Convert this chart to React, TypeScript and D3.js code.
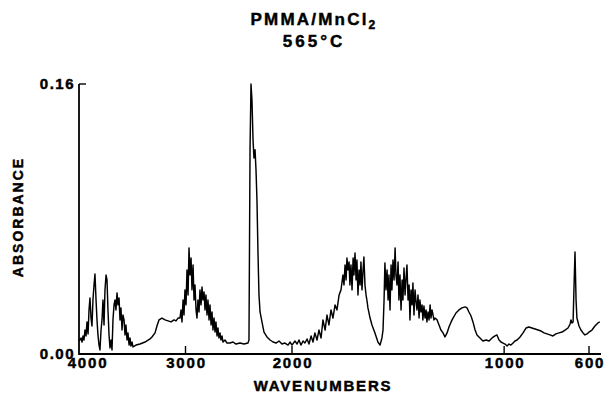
import React from 'react';
import * as d3 from 'd3';

// Spectrum: [wavenumber (cm-1), absorbance]
const region4000to2000: [number, number][] = [
  [4000,0.0077],[3991,0.0083],[3981,0.0095],[3972,0.0071],[3962,0.0107],[3953,0.0083],[3944,0.0142],[3934,0.0107],[3925,0.0190],[3915,0.0119],
  [3906,0.0261],[3897,0.0332],[3887,0.0213],[3878,0.0166],[3869,0.0320],[3859,0.0409],[3850,0.0474],[3840,0.0320],[3831,0.0202],[3822,0.0113],
  [3812,0.0053],[3803,0.0024],[3793,0.0142],[3784,0.0202],[3775,0.0320],[3765,0.0172],[3756,0.0380],[3746,0.0468],[3737,0.0439],[3728,0.0261],
  [3718,0.0113],[3709,0.0036],[3699,0.0083],[3690,0.0024],[3681,0.0202],[3671,0.0291],[3662,0.0320],[3653,0.0261],[3643,0.0362],[3634,0.0291],
  [3624,0.0332],[3615,0.0202],[3606,0.0273],[3596,0.0142],[3587,0.0231],[3577,0.0202],[3568,0.0113],[3559,0.0172],[3549,0.0083],[3540,0.0125],
  [3530,0.0053],[3521,0.0095],[3512,0.0047],[3502,0.0071],[3493,0.0042],
  [3465,0.0053],[3427,0.0059],[3380,0.0071],[3333,0.0089],[3315,0.0101],[3286,0.0125],[3268,0.0166],[3249,0.0202],[3221,0.0213],[3192,0.0202],
  [3164,0.0196],[3136,0.0190],[3108,0.0202],[3089,0.0196],[3070,0.0213],
  [3052,0.0213],[3042,0.0261],[3033,0.0190],[3023,0.0320],[3014,0.0231],[3005,0.0380],[2995,0.0291],[2986,0.0498],[2976,0.0350],[2967,0.0629],
  [2958,0.0468],[2948,0.0569],[2939,0.0380],[2929,0.0528],[2920,0.0320],[2911,0.0409],[2901,0.0261],[2892,0.0213],[2883,0.0320],[2873,0.0249],
  [2864,0.0380],[2854,0.0291],[2845,0.0397],[2836,0.0320],[2826,0.0368],[2817,0.0261],[2808,0.0350],[2798,0.0231],[2789,0.0320],[2779,0.0202],
  [2770,0.0291],[2760,0.0172],[2751,0.0249],[2742,0.0142],[2732,0.0213],[2723,0.0130],[2714,0.0190],[2704,0.0107],[2695,0.0154],[2686,0.0095],
  [2676,0.0125],[2667,0.0083],[2657,0.0107],[2648,0.0071],[2629,0.0083],[2610,0.0065],[2582,0.0065],[2554,0.0071],[2526,0.0059],[2488,0.0065],
  [2451,0.0059],[2413,0.0065],[2404,0.0083],
  [2394,0.1210],[2385,0.1600],[2376,0.1506],[2366,0.1269],[2357,0.1162],[2347,0.1210],[2338,0.1091],[2329,0.0913],[2319,0.0587],[2310,0.0350],
  [2300,0.0249],[2282,0.0190],[2263,0.0130],[2235,0.0101],[2206,0.0083],[2178,0.0071],[2150,0.0065],[2122,0.0077],[2094,0.0059],[2066,0.0065],
  [2037,0.0053],[2019,0.0071],[2000,0.0053],
];

const region2000to550: [number, number][] = [
  [1986,0.0077],[1976,0.0059],[1967,0.0083],[1958,0.0053],[1948,0.0077],[1939,0.0065],[1929,0.0089],[1920,0.0059],[1910,0.0107],[1901,0.0071],
  [1892,0.0125],[1882,0.0083],[1873,0.0142],[1863,0.0095],[1854,0.0202],[1844,0.0142],[1835,0.0231],[1826,0.0172],[1816,0.0261],[1807,0.0213],
  [1797,0.0291],[1788,0.0261],[1778,0.0350],[1769,0.0380],[1760,0.0468],[1755,0.0409],[1750,0.0528],[1745,0.0439],[1741,0.0569],[1736,0.0498],
  [1731,0.0546],[1727,0.0409],[1722,0.0528],[1717,0.0380],[1712,0.0569],[1708,0.0468],[1703,0.0599],[1698,0.0439],[1694,0.0557],[1689,0.0350],
  [1684,0.0498],[1679,0.0409],[1675,0.0546],[1670,0.0380],[1665,0.0498],[1661,0.0575],[1656,0.0409],[1651,0.0350],[1647,0.0320],[1642,0.0273],
  [1632,0.0213],[1623,0.0172],[1609,0.0125],[1595,0.0071],[1585,0.0053],[1576,0.0095],[1571,0.0142],[1566,0.0320],[1562,0.0540],[1557,0.0380],
  [1552,0.0498],[1547,0.0320],[1543,0.0468],[1538,0.0261],[1533,0.0528],[1529,0.0380],[1524,0.0557],[1519,0.0439],[1514,0.0629],[1510,0.0468],
  [1505,0.0409],[1500,0.0546],[1496,0.0320],[1491,0.0468],[1486,0.0261],[1481,0.0439],[1477,0.0320],[1472,0.0510],[1467,0.0350],[1463,0.0439],
  [1458,0.0528],[1453,0.0320],[1448,0.0409],[1444,0.0202],[1439,0.0380],[1434,0.0291],[1430,0.0421],[1425,0.0231],[1420,0.0380],[1416,0.0320],
  [1411,0.0261],[1406,0.0350],[1401,0.0213],[1397,0.0320],[1392,0.0249],[1387,0.0291],[1383,0.0202],[1378,0.0285],[1373,0.0213],[1368,0.0261],
  [1364,0.0190],[1359,0.0249],[1354,0.0202],[1349,0.0291],[1345,0.0213],[1340,0.0261],[1335,0.0231],[1331,0.0202],[1326,0.0213],[1316,0.0202],
  [1307,0.0172],[1298,0.0142],[1288,0.0125],[1279,0.0101],[1269,0.0125],[1260,0.0160],[1250,0.0190],[1241,0.0213],[1227,0.0243],[1213,0.0261],
  [1199,0.0273],[1184,0.0279],[1175,0.0273],[1166,0.0249],[1156,0.0225],[1147,0.0190],[1137,0.0142],[1128,0.0113],[1114,0.0095],[1100,0.0077],
  [1085,0.0083],[1071,0.0077],[1057,0.0095],[1043,0.0107],[1034,0.0113],[1024,0.0083],[1015,0.0071],[1005,0.0065],[996,0.0059],[986,0.0047],
  [977,0.0059],[968,0.0053],[958,0.0065],[949,0.0077],[939,0.0083],[925,0.0101],[911,0.0125],[897,0.0154],[883,0.0160],[869,0.0154],
  [854,0.0148],[840,0.0142],[826,0.0136],[812,0.0125],[798,0.0119],[784,0.0113],[770,0.0107],[756,0.0119],[741,0.0125],[727,0.0130],
  [713,0.0142],[699,0.0154],[689,0.0178],[685,0.0202],[680,0.0184],[675,0.0190],[671,0.0380],[666,0.0605],[661,0.0320],[657,0.0213],
  [652,0.0190],[647,0.0166],[638,0.0142],[628,0.0125],[619,0.0113],[609,0.0119],[600,0.0130],[586,0.0142],[572,0.0166],[558,0.0184],
  [549,0.0190],
];

const xTickValues = [4000, 3000, 2000, 1000, 600];
const xTickLabels = ['4000', '3000', '2000', '1000', '600'];
const yTickValues = [0, 0.16];
const yTickLabels = ['0.00', '0.16'];

const FONT = '"Liberation Sans", Arial, Helvetica, sans-serif';
const INK = '#000';

export default function App() {
  const W = 606;
  const H = 396;
  // IR convention: scale doubles below 2000 cm-1
  const x = d3.scaleLinear().domain([4000, 2000, 600]).range([79, 292, 589]);
  const y = d3.scaleLinear().domain([0, 0.16]).range([354, 84]);
  const data = [...region4000to2000, ...region2000to550];
  const line = d3
    .line<[number, number]>()
    .x((d) => x(d[0]))
    .y((d) => y(d[1]));

  const x0 = x(4000);
  const y0 = y(0);

  const textProps = {
    fontFamily: FONT,
    fontWeight: 'bold' as const,
    fill: INK,
    stroke: INK,
    strokeWidth: 0.45,
  };

  return (
    <svg
      width={W}
      height={H}
      viewBox={`0 0 ${W} ${H}`}
      style={{ position: 'absolute', left: 0, top: 0, background: '#fff' }}
    >
      <rect x={0} y={0} width={W} height={H} fill="#fff" />
      {/* title */}
      <text x={314} y={25} textAnchor="middle" fontSize={17} style={{ letterSpacing: '2.2px' }} {...textProps}>
        PMMA/MnCl
        <tspan fontSize={12} dy={4}>2</tspan>
      </text>
      <text x={314} y={47} textAnchor="middle" fontSize={17} style={{ letterSpacing: '3px' }} {...textProps}>
        565°C
      </text>

      {/* spectrum */}
      <path d={line(data) || ''} fill="none" stroke={INK} strokeWidth={1.45} strokeLinejoin="round" />

      {/* axes */}
      <line x1={x0} y1={y(0.16)} x2={x0} y2={y0 + 1} stroke={INK} strokeWidth={1.8} />
      <line x1={x0} y1={y0} x2={601} y2={y0} stroke={INK} strokeWidth={1.8} />
      <line x1={x0} y1={y(0.16)} x2={x0 + 7} y2={y(0.16)} stroke={INK} strokeWidth={1.4} />
      {xTickValues.slice(1).map((v) => (
        <line key={v} x1={x(v)} y1={y0} x2={x(v)} y2={y0 - 8} stroke={INK} strokeWidth={1.4} />
      ))}

      {/* y tick labels */}
      {yTickValues.map((v, i) => (
        <text key={v} x={x0 - 4} y={y(v) + 5} textAnchor="end" fontSize={15} style={{ letterSpacing: '1.5px' }} {...textProps}>
          {yTickLabels[i]}
        </text>
      ))}

      {/* x tick labels */}
      {xTickValues.map((v, i) => (
        <text
          key={v}
          x={x(v) + (i === 0 ? 9 : 1)}
          y={368}
          textAnchor="middle"
          fontSize={15}
          style={{ letterSpacing: '1.8px' }}
          {...textProps}
        >
          {xTickLabels[i]}
        </text>
      ))}

      {/* axis titles */}
      <text x={323} y={391} textAnchor="middle" fontSize={15} style={{ letterSpacing: '1.8px' }} {...textProps}>
        WAVENUMBERS
      </text>
      <text
        transform="translate(23,217) rotate(-90)"
        textAnchor="middle"
        fontSize={14}
        style={{ letterSpacing: '2px' }}
        {...textProps}
      >
        ABSORBANCE
      </text>
    </svg>
  );
}
